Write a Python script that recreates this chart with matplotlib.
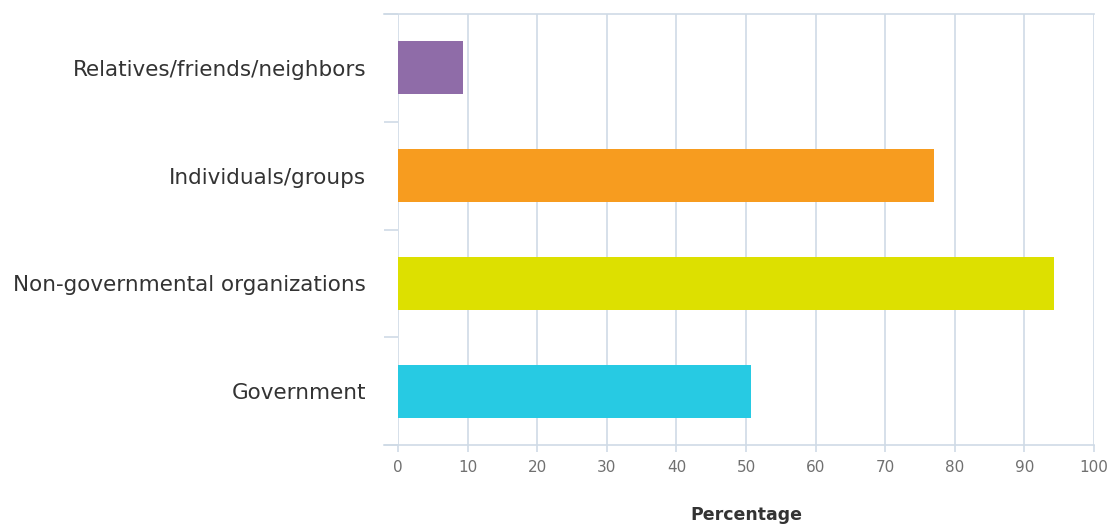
import numpy as np
import matplotlib.pyplot as plt
from matplotlib.ticker import FixedLocator

categories = ["Government", "Non-governmental organizations", "Individuals/groups", "Relatives/friends/neighbors"]
values = [50.7, 94.3, 77.0, 9.3]
colors = ["#27cae3", "#dde000", "#f79c1f", "#8f6ca8"]
xticks = [0, 10, 20, 30, 40, 50, 60, 70, 80, 90, 100]

grid_color = "#cfdae6"
plt.rcParams['font.family'] = ['DejaVu Sans']

fig = plt.figure(figsize=(11.09, 5.31), dpi=100)
ax = fig.add_axes([398 / 1109, 1 - 445 / 531, (1094 - 398) / 1109, (445 - 14) / 531])

y = np.arange(len(categories))
ax.barh(y, values, height=0.49, color=colors, zorder=3)

ax.set_xlim(0, 100)
ax.set_ylim(-0.5, len(categories) - 0.5)
ax.set_xticks(xticks)
ax.set_xticklabels([str(t) for t in xticks], fontsize=11, color="#707070")
ax.tick_params(axis='x', length=5, width=1.2, color=grid_color, pad=6)
ax.xaxis.grid(True, color=grid_color, linewidth=1.2, zorder=0)

# boundary ticks on y axis, labels at centres
ax.yaxis.set_major_locator(FixedLocator(np.arange(-0.5, len(categories), 1.0)))
ax.set_yticklabels([])
ax.tick_params(axis='y', which='major', length=10, width=1.2, color=grid_color)
ax.yaxis.set_minor_locator(FixedLocator(y))
ax.set_yticklabels(categories, minor=True)
ax.tick_params(axis='y', which='minor', length=0, pad=23, labelsize=15.5, labelcolor="#333333")

for side in ['left', 'right']:
    ax.spines[side].set_visible(False)
for side in ['top', 'bottom']:
    ax.spines[side].set_color(grid_color)
    ax.spines[side].set_linewidth(1.2)
    ax.spines[side].set_bounds(-1.95, 100)

ax.set_xlabel("Percentage", fontsize=12.5, fontweight='bold', color="#333333", labelpad=22)

fig.savefig("out.png", dpi=100)
